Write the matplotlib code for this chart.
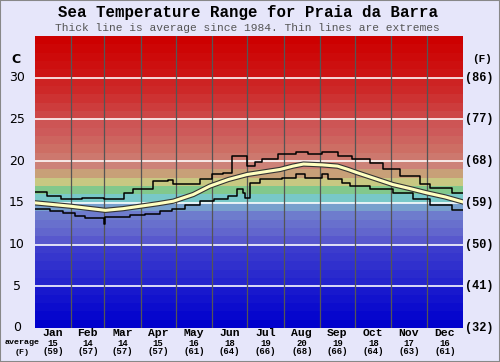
import matplotlib
matplotlib.use("Agg")
import matplotlib.pyplot as plt
import matplotlib.patheffects as pe
from matplotlib.patches import Rectangle

months = ["Jan", "Feb", "Mar", "Apr", "May", "Jun", "Jul", "Aug", "Sep", "Oct", "Nov", "Dec"]
month_avg_c = [15, 14, 14, 15, 16, 18, 19, 20, 19, 18, 17, 16]
month_avg_f = [59, 57, 57, 57, 61, 64, 66, 68, 66, 64, 63, 61]
month_starts = [0, 31, 59, 90, 120, 151, 181, 212, 243, 273, 304, 334, 365]

left_ticks = [0, 5, 10, 15, 20, 25, 30]
right_labels = ["(32)", "(41)", "(50)", "(59)", "(68)", "(77)", "(86)"]

# Max (thin, stepped) : day of year, temperature C
max_days = [0, 10, 22, 40, 59, 76, 84, 101, 113, 118, 141, 151, 160, 168, 181, 188, 194, 207,
            223, 233, 245, 258, 270, 286, 297, 311, 328, 337, 356, 365]
max_vals = [16.3, 15.8, 15.5, 15.6, 15.4, 16.2, 16.6, 17.6, 17.7, 17.2, 17.9, 18.4, 18.6, 20.6,
            19.4, 19.9, 20.3, 20.8, 21.1, 20.8, 21.1, 20.6, 20.2, 19.8, 19.0, 18.2, 17.3, 16.8,
            16.2, 16.2]

# Min (thin, stepped)
min_days = [0, 13, 24, 34, 43, 59, 60, 81, 94, 107, 117, 128, 141, 153, 165, 172, 177, 179,
            183, 192, 211, 223, 230, 245, 250, 262, 269, 286, 305, 322, 337, 356, 365]
min_vals = [14.3, 14.0, 13.8, 13.4, 13.2, 12.5, 13.3, 13.5, 13.7, 14.0, 14.3, 14.8, 15.2, 15.5,
            15.8, 16.6, 16.2, 15.6, 17.4, 17.8, 18.0, 18.5, 18.0, 18.5, 17.9, 17.4, 17.0, 16.6,
            16.2, 15.4, 14.8, 14.2, 14.2]

# Average (thick)
avg_days = [0, 15, 30, 45, 60, 75, 90, 105, 118, 135, 149, 165, 181, 195, 209, 220, 229, 245,
            258, 267, 275, 290, 305, 320, 334, 350, 365]
avg_vals = [15.0, 14.8, 14.6, 14.35, 14.1, 14.3, 14.6, 14.9, 15.2, 16.0, 17.0, 17.8, 18.4, 18.7,
            19.0, 19.4, 19.65, 19.55, 19.4, 19.0, 18.6, 17.9, 17.2, 16.7, 16.2, 15.7, 15.1]

band_colors = [
    (0, 0, 205), (6, 6, 205), (12, 12, 205), (18, 18, 205), (24, 24, 205),
    (36, 36, 205), (42, 42, 205), (48, 48, 205), (54, 54, 205), (60, 60, 205),
    (88, 88, 205), (98, 102, 205), (104, 112, 205), (110, 124, 205), (120, 160, 205),
    (120, 200, 200), (130, 200, 140), (200, 200, 130), (200, 160, 120), (205, 130, 120),
    (205, 120, 110), (205, 110, 100), (205, 100, 95), (205, 90, 90), (205, 85, 85),
    (205, 70, 70), (205, 60, 60), (205, 50, 50), (205, 40, 40), (205, 35, 35),
    (205, 20, 20), (205, 15, 15), (205, 10, 10), (205, 5, 5), (205, 0, 0),
]

bg = "#e6e6fa"
fig = plt.figure(figsize=(5.0, 3.62), dpi=100, facecolor=bg)
ax = fig.add_axes([0.07, 0.094, 0.856, 0.8066])
ax.set_xlim(0, 365)
ax.set_ylim(0, 35)

for i, c in enumerate(band_colors):
    ax.axhspan(i, i + 1, color=tuple(v / 255 for v in c), lw=0, zorder=0)

for t in left_ticks[1:]:
    ax.axhline(t, color="white", lw=1.3, alpha=0.9, zorder=1)
for d in month_starts[1:-1]:
    ax.axvline(d, color="#555555", lw=0.9, zorder=1)

ax.step(max_days, max_vals, where="post", color="black", lw=1.1, zorder=3)
ax.step(min_days, min_vals, where="post", color="black", lw=1.1, zorder=3)
ax.plot(avg_days, avg_vals, color="#ffffc0", lw=2.2, zorder=4,
        path_effects=[pe.Stroke(linewidth=3.8, foreground="#333333"), pe.Normal()])

ax.set_xticks([])
ax.set_yticks([])
for s in ax.spines.values():
    s.set_visible(False)

mono = "Liberation Mono"
tr = ax.get_yaxis_transform()
for t, rl in zip(left_ticks, right_labels):
    ax.text(-0.042, t, str(t), transform=tr, ha="center", va="center",
            fontsize=9, family="DejaVu Sans", color="black")
    ax.text(1.005, t, rl, transform=tr, ha="left", va="center",
            fontsize=8.6, family=mono, weight="bold", color="black")
ax.text(-0.045, 32.2, "C", transform=tr, ha="center", va="center",
        fontsize=9, family="DejaVu Sans", weight="bold")
ax.text(1.044, 32.2, "(F)", transform=tr, ha="center", va="center",
        fontsize=8.0, family=mono, weight="bold")

trx = ax.get_xaxis_transform()
for i, m in enumerate(months):
    mid = (month_starts[i] + month_starts[i + 1]) / 2
    ax.text(mid, -0.018, m, transform=trx, ha="center", va="center",
            fontsize=8.2, family=mono, weight="bold")
    ax.text(mid, -0.052, str(month_avg_c[i]), transform=trx, ha="center", va="center",
            fontsize=6.5, family=mono, weight="bold")
    ax.text(mid, -0.082, "(%d)" % month_avg_f[i], transform=trx, ha="center", va="center",
            fontsize=6.5, family=mono, weight="bold")
fig.text(0.045, 1 - 343 / 362, "average", ha="center", va="center",
         fontsize=6.0, family=mono, weight="bold")
fig.text(0.045, 1 - 352 / 362, "(F)", ha="center", va="center",
         fontsize=6.0, family=mono, weight="bold")

fig.text(0.497, 1 - 13 / 362, "Sea Temperature Range for Praia da Barra", ha="center",
         va="center", fontsize=11.3, family=mono, weight="bold", color="black")
fig.text(0.495, 1 - 28 / 362, "Thick line is average since 1984. Thin lines are extremes",
         ha="center", va="center", fontsize=8.1, family=mono, color="#555555")

fig.patches.append(Rectangle((0, 0), 1, 1, transform=fig.transFigure, fill=False,
                             edgecolor="#888888", lw=1.5))

fig.savefig("out.png", dpi=100, facecolor=bg)
